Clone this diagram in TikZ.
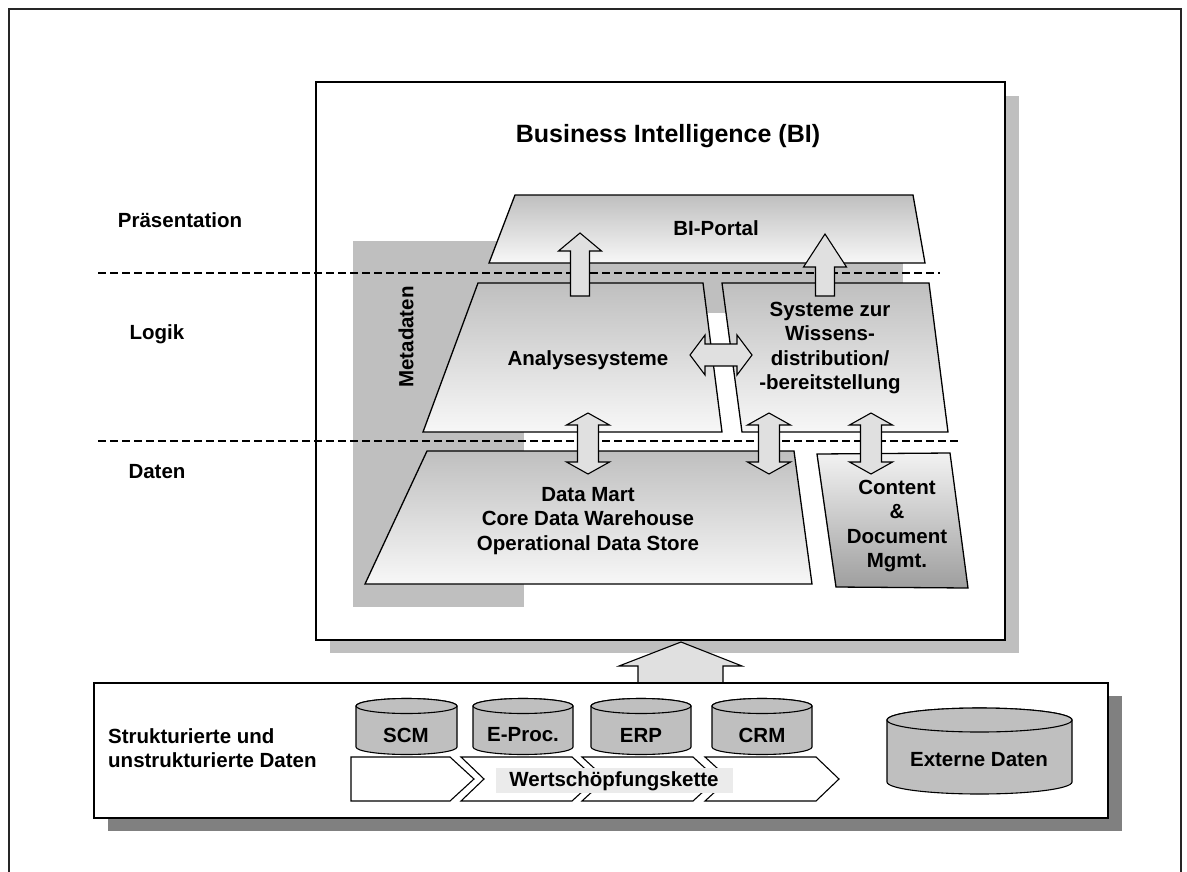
\documentclass[tikz,border=0pt]{standalone}
\usepackage{fontspec}
\setmainfont{Liberation Sans}
\begin{document}
\begin{tikzpicture}[x=1pt,y=-1pt,
  txt/.style={font=\bfseries\fontsize{20.5}{24.5}\selectfont, align=center, inner sep=0pt},
  trap/.style={draw=black, line width=1.3pt, top color=black!25, bottom color=white!97!black},
  blockarr/.style={draw=black, line width=1.1pt, fill=black!12, line join=miter},
  dashline/.style={line width=2.8pt, dash pattern=on 7.5pt off 4.5pt},
  cylfill/.style={draw=black, line width=1.1pt, fill=black!25},
  chev/.style={draw=black, line width=1.1pt, fill=white}]
\useasboundingbox (0,0) rectangle (1187,871);
\clip (0,0) rectangle (1187,871);

% outer frame
\draw[line width=1.8pt, black!85] (9,9) rectangle (1181,900);

% BI box with shadow
\fill[black!25] (330,96) rectangle (1019,653);
\draw[line width=1.5pt, fill=white] (316,82) rectangle (1005,640);
\node[txt, font=\bfseries\fontsize{25}{30}\selectfont] (title) at (668,136) {Business Intelligence (BI)};

% grey metadata region
\fill[black!25] (353,241) rectangle (524,607);
\fill[black!25] (353,241) rectangle (903,313);
\node[txt, rotate=90] (meta) at (406,337) {Metadaten};

% layer labels
\node[txt] (praes) at (180,220) {Präsentation};
\node[txt] (logik) at (157,334) {Logik};
\node[txt] (daten) at (157,472) {Daten};

% dashed layer lines
\draw[dashline] (98,273) -- (940,273);
\draw[dashline] (98,441) -- (962,441);

% trapezoids
\path[trap] (515,195) -- (913,195) -- (925,263) -- (489,263) -- cycle;
\node[txt] (portal) at (716,228) {BI-Portal};
\path[trap] (478,283) -- (703,283) -- (722,432) -- (423,432) -- cycle;
\node[txt] (analyse) at (588,360) {Analysesysteme};
\path[trap] (722,283) -- (929,283) -- (948,432) -- (742,432) -- cycle;
\node[txt] (wissen) at (830,348) {Systeme zur\\Wissens-\\distribution/\\-bereitstellung};
\path[trap] (427,451) -- (794,451) -- (812,584) -- (365,584) -- cycle;
\node[txt] (dwh) at (588,521) {Data Mart\\Core Data Warehouse\\Operational Data Store};
\path[draw=black, line width=1.3pt, top color=white!95!black, bottom color=black!38]
  (817,454) -- (950,453) -- (968,588) -- (836,587) -- cycle;
\node[txt] (cdm) at (897,526) {Content\\\&\\Document\\Mgmt.};

% block arrows
\newcommand\uparr[4]{% centre x, tip y, head base y, bottom y
  \draw[blockarr] (#1,#2) -- ({#1+21.5},#3) -- ({#1+9.5},#3) -- ({#1+9.5},#4)
    -- ({#1-9.5},#4) -- ({#1-9.5},#3) -- ({#1-21.5},#3) -- cycle;}
\newcommand\vdarr[3]{% centre x, top tip, bottom tip
  \draw[blockarr] (#1,#2) -- ({#1+21.5},{#2+12}) -- ({#1+10.5},{#2+12}) -- ({#1+10.5},{#3-12})
    -- ({#1+21.5},{#3-12}) -- (#1,#3) -- ({#1-21.5},{#3-12}) -- ({#1-10.5},{#3-12})
    -- ({#1-10.5},{#2+12}) -- ({#1-21.5},{#2+12}) -- cycle;}
\uparr{580}{233}{251}{296}
\uparr{825}{234}{267}{296}
\vdarr{588}{413}{474}
\vdarr{769}{413}{474}
\vdarr{871}{413}{474}
\draw[blockarr] (690,355) -- (705,335) -- (705,344) -- (737,344) -- (737,335) -- (752,355)
  -- (737,375) -- (737,366) -- (705,366) -- (705,375) -- cycle;

% big arrow from source systems
\draw[blockarr] (681,642) -- (742,666) -- (723,666) -- (723,684) -- (638,684) -- (638,666) -- (619,666) -- cycle;

% bottom box
\fill[black!50] (108,696) rectangle (1122,831);
\draw[line width=1.4pt, fill=white] (94,683) rectangle (1108,818);
\node[txt, align=left, anchor=west] (struct) at (108,748) {Strukturierte und\\unstrukturierte Daten};

% value chain chevrons
\draw[chev] (351,757) -- (450,757) -- (474,779) -- (450,801) -- (351,801) -- cycle;
\draw[chev] (461,757) -- (572,757) -- (596,779) -- (572,801) -- (461,801) -- (484,779) -- cycle;
\draw[chev] (582,757) -- (693,757) -- (717,779) -- (693,801) -- (582,801) -- (606,779) -- cycle;
\draw[chev] (705,757) -- (816,757) -- (839,779) -- (816,801) -- (705,801) -- (729,779) -- cycle;
\fill[black!8] (496,768) rectangle (733,793);
\node[txt] (wsk) at (614,781) {Wertschöpfungskette};

% cylinders
\newcommand\cyl[5]{% x1, x2, top centre y, bottom centre y, ry
  \path[cylfill] (#1,#3) -- (#1,#4) arc[start angle=180, end angle=360, x radius={(#2-#1)/2}, y radius=-#5]
    -- (#2,#3) arc[start angle=0, end angle=180, x radius={(#2-#1)/2}, y radius=-#5] -- cycle;
  \draw[cylfill] ({(#1+#2)/2},#3) ellipse[x radius={(#2-#1)/2}, y radius=#5];}
\cyl{356}{457}{706}{747}{7.5}
\cyl{473}{573}{706}{747}{7.5}
\cyl{591}{691}{706}{747}{7.5}
\cyl{712}{812}{706}{747}{7.5}
\cyl{887}{1072}{720}{782}{12}
\node[txt] (scm) at (406,735) {SCM};
\node[txt] (eproc) at (523,735) {E-Proc.};
\node[txt] (erp) at (641,735) {ERP};
\node[txt] (crm) at (762,735) {CRM};
\node[txt] (ext) at (979,760) {Externe Daten};
\end{tikzpicture}
\end{document}
